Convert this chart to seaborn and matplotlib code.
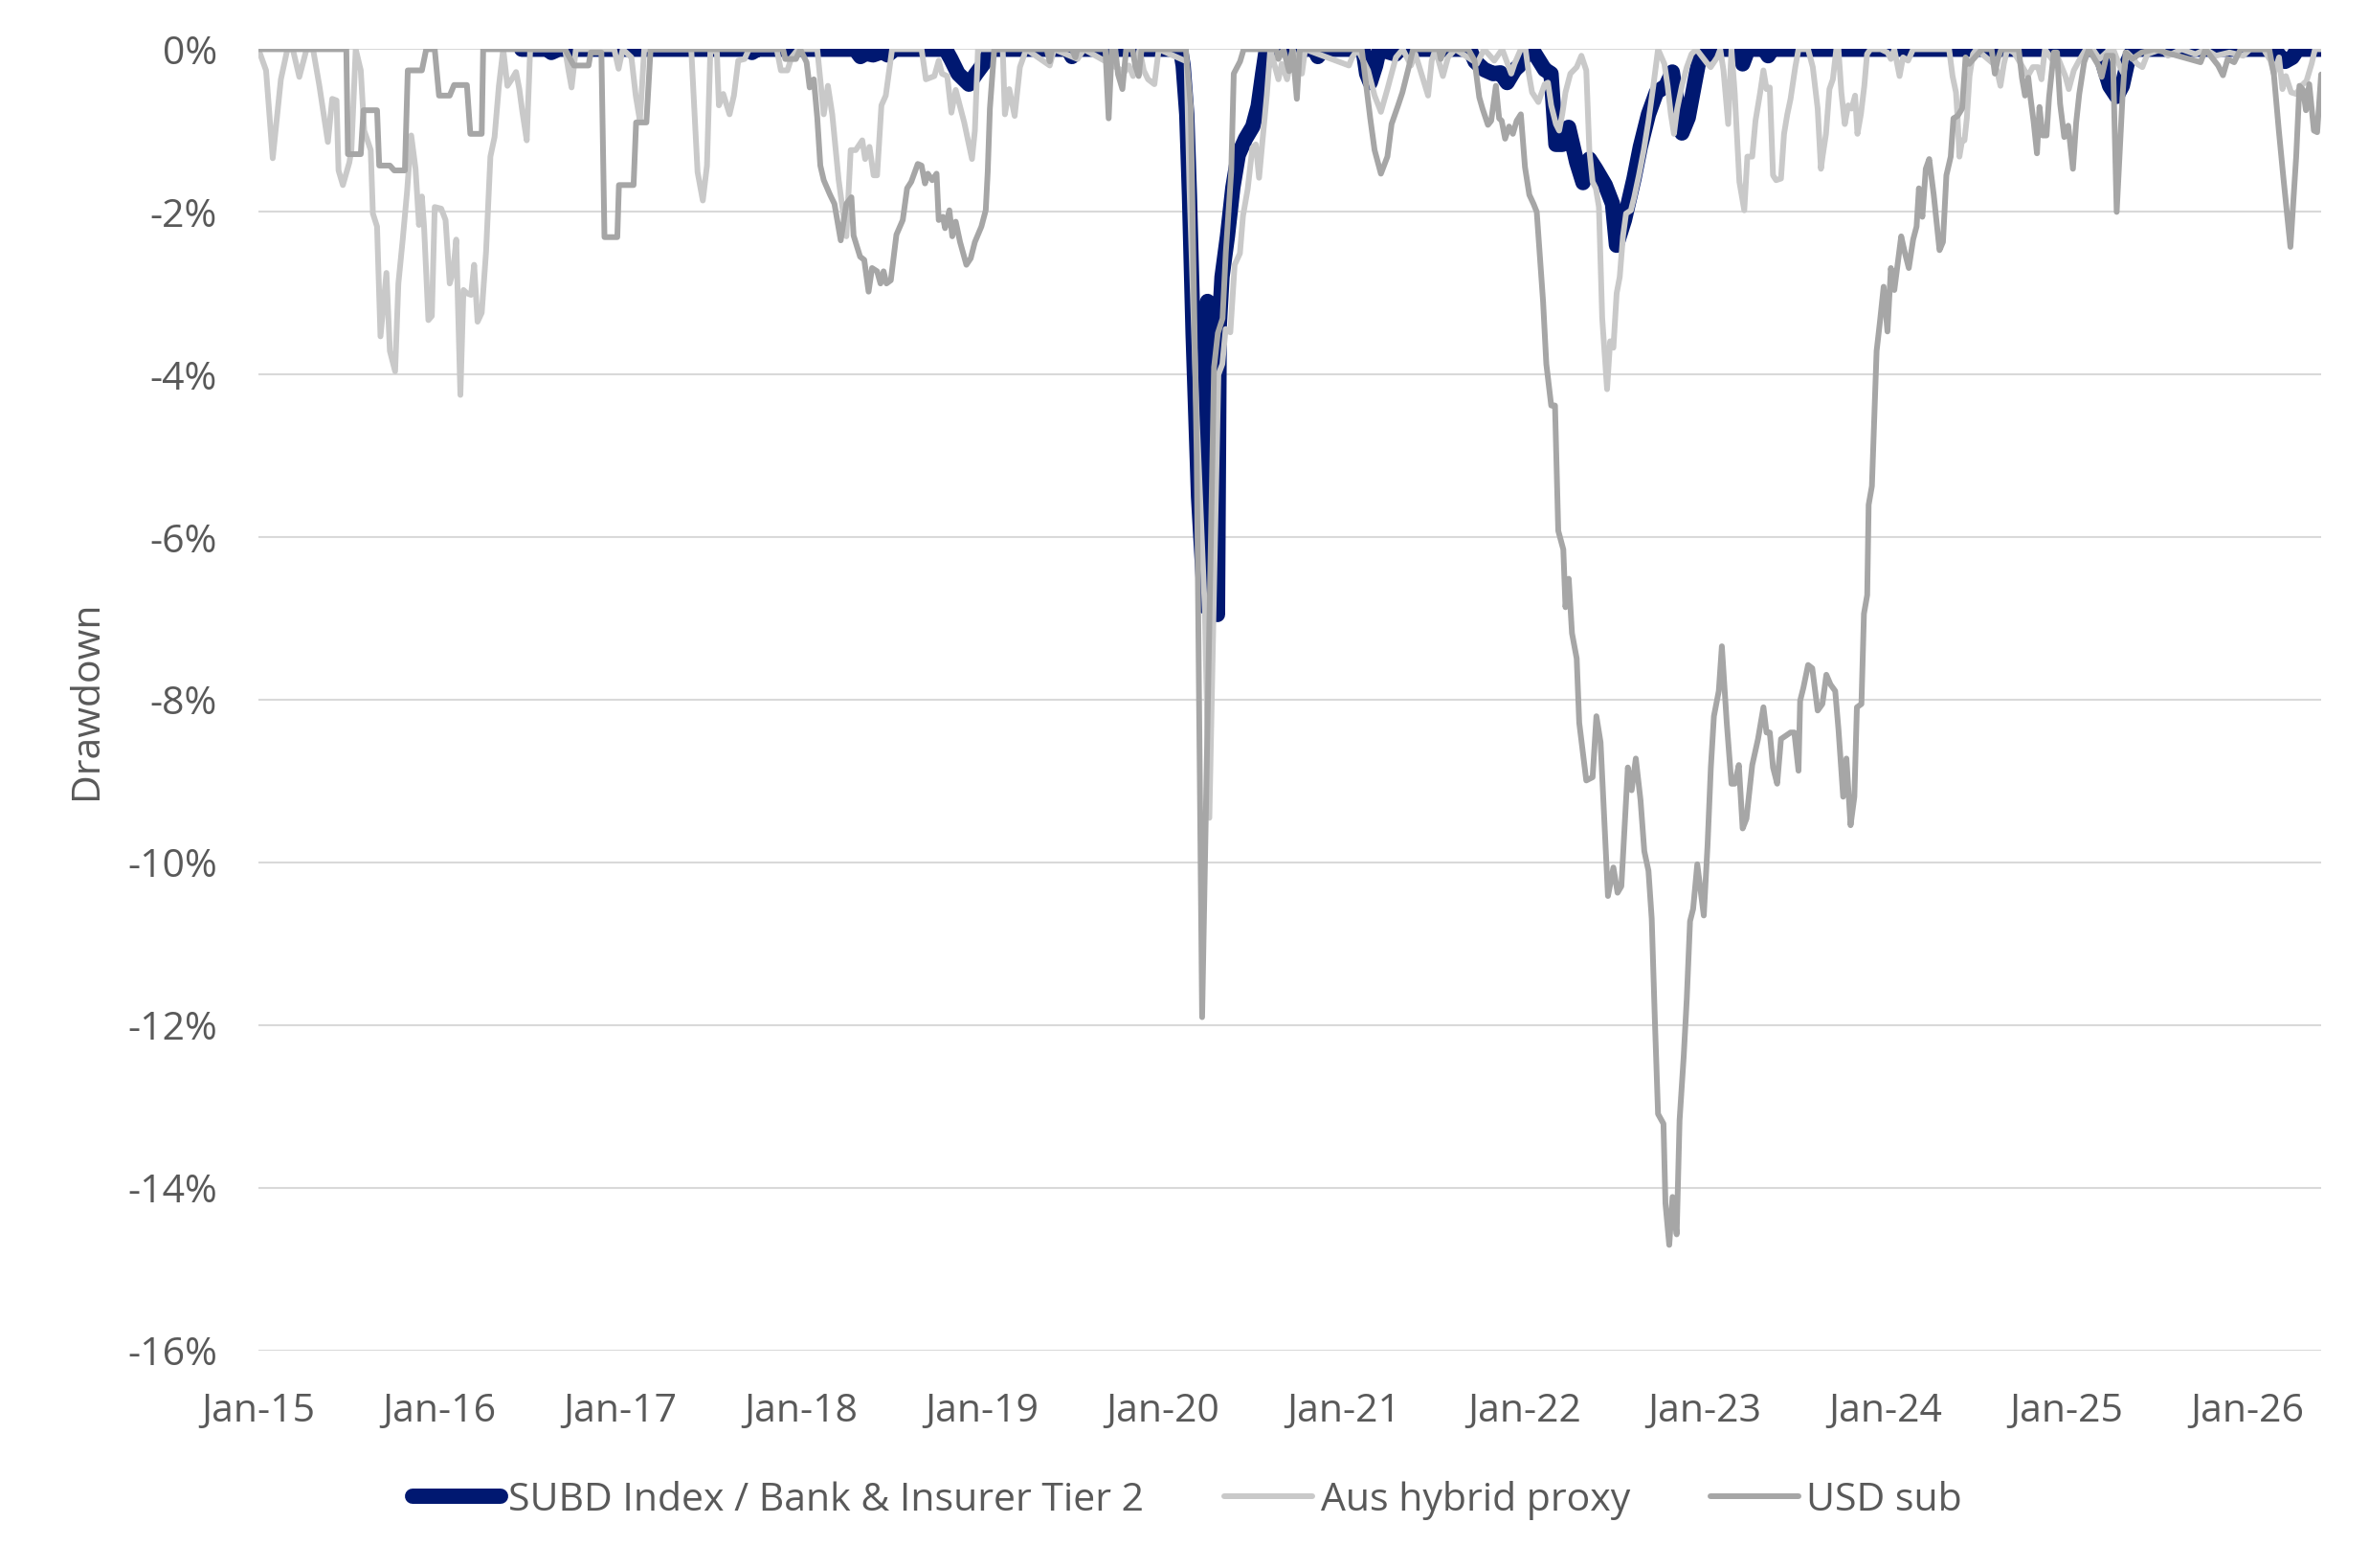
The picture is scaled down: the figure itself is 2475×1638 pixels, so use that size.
import numpy as np
import pandas as pd
import matplotlib
matplotlib.use("Agg")
import matplotlib.pyplot as plt
import matplotlib.dates as mdates
import seaborn as sns

# drawdown series (decimal year, drawdown in %)
subd_years = [
    2016.456, 2016.60, 2016.62, 2016.66, 2017.70, 2017.73, 2017.76, 2018.30, 2018.33, 2018.36,
    2018.40, 2018.45, 2018.48, 2018.52, 2018.80, 2018.83, 2018.87, 2018.93, 2018.97, 2019.02,
    2019.05, 2019.48, 2019.50, 2019.53, 2020.10, 2020.115, 2020.135, 2020.15, 2020.17, 2020.20,
    2020.235, 2020.25, 2020.27, 2020.29, 2020.305, 2020.315, 2020.33, 2020.36, 2020.39, 2020.42,
    2020.46, 2020.50, 2020.53, 2020.555, 2020.575, 2020.84, 2020.86, 2020.89, 2021.11, 2021.13,
    2021.15, 2021.18, 2021.20, 2021.29, 2021.31, 2021.70, 2021.73, 2021.78, 2021.83, 2021.87,
    2021.907, 2021.95, 2021.975, 2022.027, 2022.045, 2022.115, 2022.15, 2022.177, 2022.212, 2022.247,
    2022.292, 2022.327, 2022.362, 2022.397, 2022.45, 2022.49, 2022.512, 2022.556, 2022.609, 2022.644,
    2022.689, 2022.733, 2022.786, 2022.821, 2022.874, 2022.909, 2022.945, 2022.98, 2023.015, 2023.05,
    2023.19, 2023.21, 2023.24, 2023.33, 2023.351, 2023.37, 2025.17, 2025.20, 2025.24, 2025.279,
    2025.31, 2025.34, 2025.37, 2026.15, 2026.18, 2026.21, 2026.25, 2026.28, 2026.41,
]
subd_dd = [
    0, 0, -0.04, 0, 0, -0.04, 0, 0, -0.09, -0.05,
    -0.07, -0.03, -0.07, 0, 0, -0.12, -0.3, -0.43, -0.3, -0.15,
    0, 0, -0.09, 0, 0, -0.2, -0.8, -1.8, -3.5, -5.5,
    -6.85, -3.1, -3.2, -3.4, -6.95, -3.4, -2.8, -2.3, -1.7, -1.3,
    -1.1, -0.95, -0.7, -0.3, 0, 0, -0.09, 0, 0, -0.3,
    -0.41, -0.2, 0, -0.06, 0, 0, -0.15, -0.25, -0.3, -0.29,
    -0.41, -0.25, -0.2, 0, 0, -0.25, -0.3, -1.17, -1.17, -0.96,
    -1.39, -1.64, -1.35, -1.47, -1.67, -1.9, -2.41, -2.1, -1.59, -1.2,
    -0.8, -0.53, -0.45, -0.28, -1.03, -0.84, -0.41, 0, -0.07, 0,
    0, -0.18, 0, 0, -0.08, 0, 0, -0.15, -0.45, -0.58,
    -0.45, -0.15, 0, 0, -0.08, -0.15, -0.1, 0, 0,
]

aus_years = [
    2015.0, 2015.042, 2015.079, 2015.124, 2015.16, 2015.19, 2015.226, 2015.266, 2015.302, 2015.337,
    2015.384, 2015.408, 2015.432, 2015.443, 2015.467, 2015.503, 2015.514, 2015.538, 2015.566, 2015.585,
    2015.621, 2015.633, 2015.656, 2015.675, 2015.708, 2015.727, 2015.756, 2015.774, 2015.798, 2015.822,
    2015.845, 2015.869, 2015.888, 2015.904, 2015.916, 2015.94, 2015.959, 2015.975, 2016.011, 2016.035,
    2016.058, 2016.077, 2016.094, 2016.117, 2016.134, 2016.153, 2016.176, 2016.193, 2016.212, 2016.235,
    2016.259, 2016.283, 2016.306, 2016.33, 2016.354, 2016.377, 2016.401, 2016.425, 2016.443, 2016.46,
    2016.484, 2016.503, 2016.696, 2016.715, 2016.732, 2016.756, 2016.968, 2016.992, 2017.015, 2017.063,
    2017.087, 2017.11, 2017.134, 2017.394, 2017.429, 2017.458, 2017.481, 2017.5, 2017.536, 2017.547,
    2017.571, 2017.606, 2017.63, 2017.654, 2017.689, 2017.713, 2017.867, 2017.89, 2017.926, 2017.949,
    2017.985, 2018.091, 2018.127, 2018.15, 2018.174, 2018.209, 2018.252, 2018.276, 2018.304, 2018.34,
    2018.356, 2018.38, 2018.403, 2018.422, 2018.446, 2018.47, 2018.505, 2018.668, 2018.692, 2018.739,
    2018.763, 2018.781, 2018.81, 2018.833, 2018.857, 2018.904, 2018.947, 2018.963, 2018.98, 2019.117,
    2019.129, 2019.153, 2019.183, 2019.212, 2019.247, 2019.377, 2019.401, 2019.531, 2019.566, 2019.791,
    2019.815, 2019.838, 2019.874, 2019.897, 2019.921, 2019.956, 2019.98, 2020.134, 2020.15, 2020.19,
    2020.235, 2020.26, 2020.31, 2020.332, 2020.35, 2020.376, 2020.4, 2020.429, 2020.446, 2020.472,
    2020.498, 2020.517, 2020.535, 2020.552, 2020.578, 2020.597, 2020.642, 2020.66, 2020.69, 2020.72,
    2020.772, 2020.79, 2021.032, 2021.05, 2021.08, 2021.138, 2021.174, 2021.209, 2021.245, 2021.292,
    2021.33, 2021.375, 2021.4, 2021.47, 2021.49, 2021.51, 2021.552, 2021.58, 2021.62, 2021.717,
    2021.74, 2021.78, 2021.836, 2021.88, 2021.93, 2021.948, 2021.983, 2022.009, 2022.027, 2022.045,
    2022.08, 2022.115, 2022.133, 2022.151, 2022.177, 2022.195, 2022.212, 2022.23, 2022.257, 2022.292,
    2022.318, 2022.345, 2022.362, 2022.38, 2022.398, 2022.415, 2022.433, 2022.46, 2022.477, 2022.495,
    2022.513, 2022.53, 2022.548, 2022.565, 2022.592, 2022.61, 2022.636, 2022.663, 2022.689, 2022.716,
    2022.742, 2022.777, 2022.795, 2022.813, 2022.83, 2022.848, 2022.874, 2022.901, 2022.927, 2022.954,
    2023.016, 2023.033, 2023.069, 2023.086, 2023.104, 2023.13, 2023.148, 2023.166, 2023.192, 2023.219,
    2023.236, 2023.263, 2023.281, 2023.307, 2023.325, 2023.342, 2023.36, 2023.378, 2023.395, 2023.422,
    2023.439, 2023.457, 2023.475, 2023.501, 2023.519, 2023.572, 2023.598, 2023.625, 2023.643, 2023.652,
    2023.671, 2023.69, 2023.709, 2023.728, 2023.74, 2023.756, 2023.775, 2023.794, 2023.813, 2023.832,
    2023.845, 2023.864, 2023.883, 2023.898, 2023.917, 2023.974, 2024.011, 2024.03, 2024.049, 2024.078,
    2024.097, 2024.125, 2024.153, 2024.352, 2024.371, 2024.39, 2024.399, 2024.409, 2024.424, 2024.437,
    2024.45, 2024.465, 2024.484, 2024.503, 2024.598, 2024.617, 2024.636, 2024.655, 2024.674, 2024.711,
    2024.749, 2024.787, 2024.815, 2024.844, 2024.863, 2024.882, 2024.92, 2024.957, 2024.995, 2025.014,
    2025.042, 2025.071, 2025.109, 2025.147, 2025.184, 2025.222, 2025.26, 2025.298, 2025.317, 2025.336,
    2025.364, 2025.392, 2025.421, 2025.449, 2025.525, 2025.563, 2025.638, 2025.714, 2025.771, 2025.828,
    2025.903, 2025.979, 2026.017, 2026.092, 2026.13, 2026.149, 2026.177, 2026.196, 2026.215, 2026.244,
    2026.272, 2026.3, 2026.329, 2026.357, 2026.376, 2026.41,
]
aus_dd = [
    0, -0.26, -1.34, -0.37, 0, 0, -0.34, 0, 0, -0.45,
    -1.14, -0.61, -0.63, -1.49, -1.67, -1.39, -1.24, 0, -0.26, -1.0,
    -1.24, -2.02, -2.18, -3.53, -2.75, -3.71, -3.96, -2.88, -2.34, -1.75,
    -1.06, -1.47, -2.16, -1.81, -2.18, -3.33, -3.28, -1.94, -1.96, -2.1,
    -2.88, -2.73, -2.34, -4.25, -2.96, -3.0, -3.02, -2.65, -3.35, -3.24,
    -2.49, -1.32, -1.08, -0.45, 0, -0.45, -0.37, -0.28, -0.49, -0.77,
    -1.12, 0, 0, -0.26, -0.47, 0, 0, -0.24, 0, -0.1,
    -0.57, -0.88, 0, 0, -1.51, -1.86, -1.43, 0, -0.04, -0.69,
    -0.55, -0.8, -0.57, -0.14, -0.12, 0, 0, -0.26, -0.26, -0.1,
    0, 0, -0.8, -0.45, -0.8, -1.6, -2.3, -1.24, -1.24, -1.12,
    -1.35, -1.2, -1.55, -1.55, -0.69, -0.57, 0, 0, -0.37, -0.33,
    -0.14, -0.3, -0.33, -0.78, -0.5, -0.9, -1.35, -1.0, 0, 0,
    -0.8, -0.49, -0.82, -0.22, 0, -0.2, 0, -0.12, 0, -0.28,
    -0.2, -0.33, 0, -0.26, -0.37, -0.43, 0, -0.15, -1.7, -4.5,
    -6.9, -9.45, -4.0, -3.87, -3.44, -3.48, -2.65, -2.51, -2.05, -1.72,
    -1.21, -1.17, -1.58, -1.17, -0.56, 0, -0.37, -0.18, -0.37, 0,
    -0.3, 0, -0.2, -0.1, 0, -0.26, -0.57, -0.77, -0.49, -0.1,
    0, -0.2, -0.06, -0.57, -0.14, 0, -0.33, -0.1, 0, -0.14,
    -0.18, 0, -0.14, 0, -0.3, -0.18, 0, 0, -0.3, -0.53,
    -0.65, -0.43, -0.41, -0.69, -0.92, -1.0, -0.8, -0.53, -0.3, -0.22,
    -0.08, -0.26, -1.24, -1.63, -1.71, -1.94, -3.3, -4.18, -3.59, -3.67,
    -3.0, -2.8, -2.3, -2.02, -1.98, -1.82, -1.55, -1.24, -0.88, -0.45,
    0, -0.18, -0.45, -0.8, -1.04, -0.73, -0.45, -0.22, -0.06, 0,
    -0.18, -0.22, -0.1, 0, -0.26, -0.92, 0, -0.53, -1.63, -1.98,
    -1.32, -1.32, -0.88, -0.53, -0.26, -0.49, -0.47, -1.55, -1.61, -1.59,
    -1.04, -0.8, -0.61, -0.22, 0, 0, -0.22, -0.73, -1.47, -1.32,
    -1.04, -0.49, -0.37, 0, 0, -0.53, -0.92, -0.69, -0.73, -0.57,
    -1.04, -0.8, -0.45, -0.06, 0, 0, -0.04, -0.12, 0, -0.33,
    -0.1, -0.14, 0, 0, -0.33, -0.53, -0.85, -1.32, -1.12, -1.12,
    -0.85, -0.33, -0.06, 0, -0.18, -0.26, -0.45, -0.18, 0, -0.04,
    -0.18, -0.33, -0.22, -0.22, -0.37, 0, -0.12, -0.12, -0.33, -0.49,
    -0.26, -0.14, 0, 0, -0.12, -0.04, 0, -0.22, -0.3, -0.04,
    -0.1, -0.18, -0.22, -0.06, 0, -0.08, 0, -0.06, 0, -0.08,
    -0.04, -0.08, 0, 0, -0.14, -0.3, -0.1, -0.49, -0.33, -0.53,
    -0.55, -0.45, -0.39, -0.18, 0, 0,
]

usd_years = [
    2015.0, 2015.486, 2015.495, 2015.566, 2015.581, 2015.656, 2015.668, 2015.727, 2015.751, 2015.81,
    2015.826, 2015.904, 2015.928, 2015.975, 2015.999, 2016.058, 2016.082, 2016.153, 2016.172, 2016.235,
    2016.243, 2016.696, 2016.744, 2016.826, 2016.838, 2016.897, 2016.914, 2016.985, 2016.994, 2017.075,
    2017.089, 2017.146, 2017.169, 2017.902, 2017.914, 2017.973, 2017.997, 2018.032, 2018.049, 2018.072,
    2018.091, 2018.108, 2018.127, 2018.162, 2018.186, 2018.221, 2018.252, 2018.28, 2018.292, 2018.328,
    2018.351, 2018.375, 2018.394, 2018.422, 2018.441, 2018.458, 2018.474, 2018.498, 2018.529, 2018.564,
    2018.588, 2018.611, 2018.647, 2018.668, 2018.687, 2018.703, 2018.727, 2018.751, 2018.763, 2018.786,
    2018.798, 2018.822, 2018.838, 2018.857, 2018.881, 2018.916, 2018.94, 2018.963, 2018.999, 2019.023,
    2019.034, 2019.046, 2019.07, 2019.36, 2019.377, 2019.39, 2019.5, 2019.519, 2019.53, 2019.685,
    2019.703, 2019.72, 2019.74, 2019.755, 2019.779, 2019.8, 2019.835, 2019.85, 2019.869, 2019.885,
    2020.13, 2020.157, 2020.19, 2020.22, 2020.286, 2020.307, 2020.333, 2020.351, 2020.381, 2020.395,
    2020.43, 2020.45, 2020.63, 2020.642, 2020.67, 2020.701, 2020.72, 2020.744, 2020.76, 2021.103,
    2021.15, 2021.174, 2021.209, 2021.245, 2021.268, 2021.304, 2021.328, 2021.363, 2021.387, 2021.53,
    2021.54, 2021.56, 2021.692, 2021.727, 2021.753, 2021.771, 2021.801, 2021.819, 2021.845, 2021.863,
    2021.877, 2021.896, 2021.918, 2021.939, 2021.96, 2021.983, 2022.006, 2022.03, 2022.053, 2022.071,
    2022.106, 2022.124, 2022.151, 2022.172, 2022.19, 2022.218, 2022.23, 2022.248, 2022.266, 2022.292,
    2022.306, 2022.345, 2022.38, 2022.401, 2022.424, 2022.465, 2022.495, 2022.518, 2022.539, 2022.575,
    2022.596, 2022.619, 2022.645, 2022.666, 2022.689, 2022.707, 2022.724, 2022.742, 2022.772, 2022.783,
    2022.804, 2022.822, 2022.845, 2022.861, 2022.884, 2022.901, 2022.919, 2022.936, 2022.959, 2022.995,
    2023.016, 2023.034, 2023.051, 2023.078, 2023.095, 2023.122, 2023.148, 2023.166, 2023.189, 2023.21,
    2023.231, 2023.263, 2023.295, 2023.325, 2023.342, 2023.36, 2023.378, 2023.401, 2023.422, 2023.449,
    2023.475, 2023.496, 2023.519, 2023.528, 2023.546, 2023.572, 2023.595, 2023.625, 2023.651, 2023.673,
    2023.696, 2023.722, 2023.74, 2023.766, 2023.784, 2023.807, 2023.828, 2023.842, 2023.867, 2023.881,
    2023.899, 2023.907, 2023.925, 2023.951, 2023.969, 2023.99, 2024.011, 2024.03, 2024.049, 2024.087,
    2024.106, 2024.129, 2024.153, 2024.172, 2024.185, 2024.204, 2024.223, 2024.242, 2024.267, 2024.299,
    2024.318, 2024.337, 2024.361, 2024.376, 2024.399, 2024.424, 2024.443, 2024.463, 2024.534, 2024.587,
    2024.605, 2024.622, 2024.64, 2024.737, 2024.755, 2024.772, 2024.79, 2024.802, 2024.82, 2024.838,
    2024.852, 2024.869, 2024.891, 2024.905, 2024.931, 2024.949, 2024.966, 2024.989, 2025.011, 2025.037,
    2025.055, 2025.072, 2025.099, 2025.125, 2025.178, 2025.196, 2025.223, 2025.258, 2025.279, 2025.311,
    2025.328, 2025.364, 2025.417, 2025.487, 2025.743, 2025.77, 2025.84, 2025.867, 2025.893, 2025.929,
    2025.964, 2026.123, 2026.149, 2026.176, 2026.202, 2026.24, 2026.272, 2026.29, 2026.31, 2026.326,
    2026.344, 2026.37, 2026.388, 2026.41,
]
usd_dd = [
    0, 0, -1.29, -1.29, -0.75, -0.75, -1.43, -1.43, -1.49, -1.49,
    -0.26, -0.26, 0, 0, -0.57, -0.57, -0.44, -0.44, -1.04, -1.04,
    0, 0, -0.2, -0.2, -0.04, -0.04, -2.31, -2.31, -1.67, -1.67,
    -0.9, -0.9, 0, 0, -0.12, -0.12, 0, -0.16, -0.47, -0.37,
    -0.84, -1.43, -1.61, -1.79, -1.9, -2.35, -1.9, -1.82, -2.29, -2.55,
    -2.59, -2.98, -2.69, -2.73, -2.88, -2.73, -2.88, -2.84, -2.28, -2.1,
    -1.71, -1.63, -1.41, -1.43, -1.65, -1.53, -1.61, -1.53, -2.1, -2.06,
    -2.2, -1.98, -2.3, -2.12, -2.37, -2.65, -2.57, -2.37, -2.18, -1.98,
    -1.51, -0.73, 0, 0, -0.15, 0, 0, -0.1, 0, 0,
    -0.85, 0, 0, -0.31, -0.49, 0, 0, -0.2, -0.33, 0,
    0, -0.7, -5.0, -11.9, -3.91, -3.49, -3.31, -2.5, -1.5, -0.3,
    -0.15, 0, 0, -0.12, 0, -0.27, 0, -0.61, 0, 0,
    -0.85, -1.24, -1.53, -1.32, -0.92, -0.69, -0.53, -0.22, 0, 0,
    -0.12, 0, 0, -0.14, -0.59, -0.73, -0.93, -0.88, -0.45, -0.85,
    -0.88, -1.1, -0.95, -1.04, -0.88, -0.8, -1.45, -1.79, -1.9, -2.0,
    -3.1, -3.87, -4.38, -4.38, -5.92, -6.15, -6.86, -6.51, -7.18, -7.49,
    -8.28, -8.99, -8.95, -8.2, -8.52, -10.41, -10.06, -10.37, -10.29, -8.83,
    -9.11, -8.72, -9.23, -9.86, -10.1, -10.69, -11.91, -13.09, -13.21, -14.19,
    -14.7, -14.11, -14.57, -13.17, -12.38, -11.67, -10.72, -10.57, -10.02, -10.65,
    -9.78, -8.83, -8.2, -7.89, -7.34, -8.28, -9.03, -9.03, -8.8, -9.58,
    -9.46, -8.8, -8.48, -8.09, -8.4, -8.4, -8.83, -9.03, -8.48, -8.44,
    -8.4, -8.4, -8.87, -8.01, -7.85, -7.57, -7.61, -8.13, -8.05, -7.69,
    -7.81, -7.89, -8.36, -9.19, -8.72, -9.54, -9.19, -8.09, -8.05, -6.94,
    -6.71, -5.6, -5.37, -3.71, -3.36, -2.92, -3.47, -2.69, -2.96, -2.3,
    -2.49, -2.69, -2.34, -2.18, -1.71, -2.06, -1.47, -1.35, -1.79, -2.47,
    -2.37, -1.55, -1.32, -0.85, -0.82, -0.73, -0.1, -0.18, 0, 0,
    -0.3, -0.12, 0, 0, -0.35, -0.57, -0.35, -0.59, -0.9, -1.28,
    -0.71, -1.06, -1.06, -0.59, -0.04, -0.04, -0.67, -1.08, -0.94, -1.47,
    -0.9, -0.55, -0.16, 0, -0.2, -0.34, -0.08, -0.08, -2.0, -0.59,
    -0.04, -0.12, -0.04, 0, -0.16, 0, -0.2, -0.32, -0.12, -0.16,
    0, 0, -0.32, -1.0, -1.6, -2.43, -1.32, -0.45, -0.5, -0.75,
    -0.43, -1.0, -1.02, -0.31,
]

series_names = ["SUBD Index / Bank & Insurer Tier 2", "Aus hybrid proxy", "USD sub"]
series_colours = ["#001871", "#C9C9C9", "#A6A6A6"]
series_widths = [11.5, 4.3, 4.3]
year_ticks = list(range(2015, 2027))


def to_dates(years):
    years = np.asarray(years, dtype=float)
    return pd.Timestamp("2015-01-01") + pd.to_timedelta((years - 2015) * 365.25, unit="D")


frames = []
for name, yrs, vals in zip(series_names,
                           [subd_years, aus_years, usd_years],
                           [subd_dd, aus_dd, usd_dd]):
    frames.append(pd.DataFrame({"date": to_dates(yrs), "drawdown": vals, "series": name}))
df = pd.concat(frames, ignore_index=True)

sns.set_style("white")
plt.rcParams["font.family"] = ["Open Sans", "DejaVu Sans"]
TEXT = "#595959"

fig = plt.figure(figsize=(24.75, 16.38), dpi=100)
ax = fig.add_axes([0.1091, 0.1386, 0.8707, 0.83])

for name, colour, lw in zip(series_names, series_colours, series_widths):
    sns.lineplot(data=df[df["series"] == name], x="date", y="drawdown",
                 color=colour, linewidth=lw, label=name, estimator=None,
                 errorbar=None, ax=ax, solid_capstyle="round",
                 solid_joinstyle="round")

ax.set_ylim(-16, 0)
ax.set_xlim(to_dates([2015.0])[0], to_dates([2026.41])[0])
ax.set_yticks(np.arange(-16, 1, 2))
ax.set_yticklabels([f"{v}%" for v in range(-16, 1, 2)])
ax.set_xticks(pd.to_datetime([f"{y}-01-01" for y in year_ticks]))
ax.xaxis.set_major_formatter(mdates.DateFormatter("%b-%y"))
ax.tick_params(axis="both", length=0, labelsize=29.5, labelcolor=TEXT, pad=31)

ax.grid(axis="y", color="#D9D9D9", linewidth=1.5)
ax.grid(axis="x", visible=False)
ax.set_axisbelow(True)
for side in ["top", "right", "left", "bottom"]:
    ax.spines[side].set_visible(False)

ax.set_xlabel("")
ax.set_ylabel("")
fig.text(91 / 2475, 1 - 731 / 1638, "Drawdown", rotation=90, ha="center",
         va="center", fontsize=29.5, color=TEXT)

handles, labels = ax.get_legend_handles_labels()
ax.get_legend().remove()
fig.legend(handles, labels, loc="center", bbox_to_anchor=(0.5012, 0.0433), ncol=3,
           frameon=False, fontsize=29.5, labelcolor=TEXT, handlelength=2.25,
           handletextpad=0.2, columnspacing=2.05)

fig.savefig("out.png", dpi=100)
